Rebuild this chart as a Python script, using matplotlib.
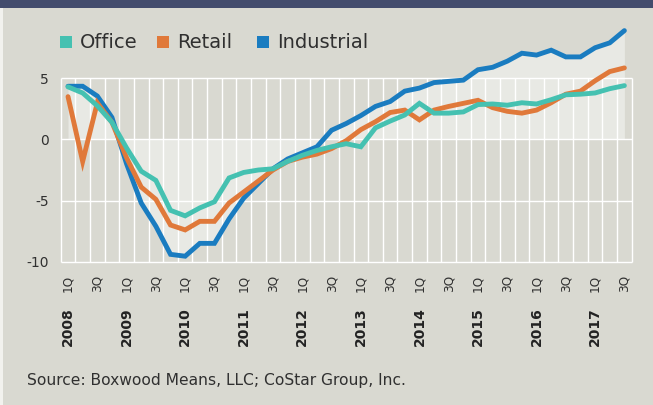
import matplotlib
matplotlib.use("Agg")
import matplotlib.pyplot as plt
from matplotlib.patches import Rectangle
import numpy as np

# ---- data ----
years = [2008, 2009, 2010, 2011, 2012, 2013, 2014, 2015, 2016, 2017]
quarter_names = ["1Q", "2Q", "3Q", "4Q"]
n_points = 39  # 2008 1Q .. 2017 3Q

series_names = ["Office", "Retail", "Industrial"]
office = [4.3, 3.8, 2.75, 1.4, -0.7, -2.6, -3.35, -5.8, -6.25, -5.6, -5.1, -3.15, -2.7,
          -2.5, -2.4, -1.8, -1.3, -0.9, -0.6, -0.35, -0.6, 0.95, 1.5, 2.0, 2.95, 2.15,
          2.15, 2.25, 2.85, 2.9, 2.8, 3.0, 2.9, 3.25, 3.65, 3.7, 3.8, 4.15, 4.4]
retail = [3.5, -1.8, 3.0, 1.4, -1.5, -3.9, -4.9, -7.0, -7.4, -6.7, -6.7, -5.2, -4.3,
          -3.4, -2.5, -1.8, -1.45, -1.2, -0.75, -0.1, 0.8, 1.45, 2.2, 2.4, 1.6, 2.4,
          2.7, 2.95, 3.2, 2.6, 2.3, 2.15, 2.4, 3.0, 3.7, 3.95, 4.8, 5.55, 5.85]
industrial = [4.35, 4.35, 3.55, 1.8, -2.0, -5.2, -7.1, -9.4, -9.55, -8.5, -8.5, -6.5, -4.8,
              -3.6, -2.4, -1.6, -1.1, -0.6, 0.75, 1.3, 1.95, 2.7, 3.1, 3.95, 4.2, 4.65,
              4.75, 4.85, 5.7, 5.9, 6.4, 7.05, 6.9, 7.3, 6.75, 6.75, 7.5, 7.9, 8.9]
y_ticks = [-10, -5, 0, 5]
source_text = "Source: Boxwood Means, LLC; CoStar Group, Inc."

# ---- style ----
BG = "#d9d9d1"
FILL = "#e8e9e4"
NAVY = "#434c6d"
TEXT = "#303030"
colors = {"Office": "#45c1b1", "Retail": "#e0793a", "Industrial": "#1a7cc0"}

W, H = 653, 405
fig = plt.figure(figsize=(W / 100, H / 100), dpi=100, facecolor=BG)

# decorative frame: navy band on top, thin light strip at left
fig.patches.append(Rectangle((0, (H - 8) / H), 1, 8 / H, transform=fig.transFigure,
                             facecolor=NAVY, edgecolor="none", zorder=0))
fig.patches.append(Rectangle((0, 0), 2.5 / W, (H - 8) / H, transform=fig.transFigure,
                             facecolor="#f2f2ee", edgecolor="none", zorder=0))

ax = fig.add_axes([60.7 / W, 1 - 261.7 / H, 571 / W, 183.4 / H])
ax.set_facecolor(BG)
for s in ax.spines.values():
    s.set_visible(False)

x = np.arange(n_points)
ax.set_xlim(-0.5, n_points - 0.5)
ax.set_ylim(-10, 5)

# light area under the Industrial series
ax.fill_between(x, 0, industrial, color=FILL, lw=0, zorder=1, clip_on=False)

# grid (category boundaries + value lines)
bounds = np.arange(-0.5, n_points, 1.0)
ax.vlines(bounds, -10, 5, colors="white", lw=1.0, zorder=2, clip_on=False)
ax.hlines(y_ticks, -0.5, n_points - 0.5, colors="white", lw=1.0, zorder=2, clip_on=False)

# lines
for name, vals, z in [("Industrial", industrial, 3), ("Retail", retail, 4), ("Office", office, 5)]:
    ax.plot(x, vals, color=colors[name], lw=3.5, solid_capstyle="round",
            solid_joinstyle="miter", zorder=z, clip_on=False)

# y axis
ax.set_yticks(y_ticks)
ax.set_yticklabels([str(v) for v in y_ticks], fontsize=10, color=TEXT)
ax.tick_params(axis="y", length=0, pad=8.4)

# x axis: quarter labels
tick_pos = [i for i in range(n_points) if i % 2 == 0]
tick_lab = [quarter_names[i % 4] for i in tick_pos]
ax.set_xticks(tick_pos)
ax.set_xticklabels(tick_lab, rotation=90, fontsize=8.7, color=TEXT)
ax.tick_params(axis="x", length=0, pad=9.5)

# year labels
trans = ax.get_xaxis_transform()
for k, yr in enumerate(years):
    ax.text(k * 4, -45.3 / 183.4, str(yr), transform=trans, rotation=90,
            ha="center", va="top", fontsize=10, fontweight="bold", color="#222222")

# legend (manual)
leg_sq_x = [60, 157, 257]
leg_tx_x = [80, 177, 277]
for name, sx, tx in zip(series_names, leg_sq_x, leg_tx_x):
    fig.patches.append(Rectangle((sx / W, (H - 47.5) / H), 11.5 / W, 11.5 / H,
                                 transform=fig.transFigure, facecolor=colors[name],
                                 edgecolor="none"))
    fig.text(tx / W, (H - 48.3) / H, name, fontsize=14, color=TEXT, va="baseline", ha="left")

fig.text(27 / W, (H - 385) / H, source_text, fontsize=11.2, color=TEXT, va="baseline", ha="left")

fig.savefig("out.png", dpi=100, facecolor=BG)
